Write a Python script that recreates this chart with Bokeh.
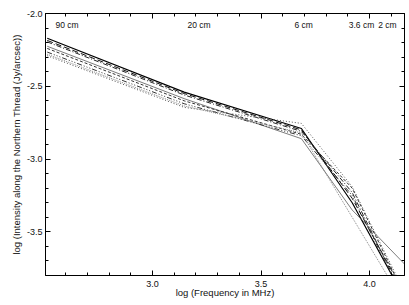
from bokeh.plotting import figure
from bokeh.models import LinearAxis, FixedTicker, Range1d, Label
from bokeh.embed import file_html
from bokeh.resources import INLINE

# log frequency (MHz) of the observed bands: 90, 20, 6, 3.6, 2 cm
log_freq = [2.515, 3.146, 3.686, 3.920, 4.170]

series = {
    "s1": [-2.170, -2.540, -2.790, -3.300, -3.980],
    "s2": [-2.185, -2.550, -2.800, -3.270, -3.950],
    "s3": [-2.195, -2.560, -2.810, -3.230, -3.990],
    "s4": [-2.225, -2.585, -2.860, -3.350, -3.735],
    "s5": [-2.240, -2.600, -2.830, -3.200, -3.960],
    "s6": [-2.265, -2.620, -2.840, -3.250, -4.000],
    "s7": [-2.290, -2.645, -2.755, -3.190, -3.940],
    "s8": [-2.280, -2.635, -2.820, -3.400, -4.020],
}
styles = {
    "s1": ("solid", 1.2, "#000000"),
    "s2": ("6 3", 1.0, "#111111"),
    "s3": ("5 2 1 2", 1.0, "#222222"),
    "s4": ("solid", 0.7, "#444444"),
    "s5": ("3 2", 1.0, "#333333"),
    "s6": ("5 2 1 2 1 2 1 2", 1.0, "#333333"),
    "s7": ("1 2", 1.0, "#555555"),
    "s8": ("1 1", 1.0, "#888888"),
}

band_labels = ["90 cm", "20 cm", "6 cm", "3.6 cm", "2 cm"]
band_label_x = [2.553, 3.161, 3.654, 3.904, 4.040]
band_label_y = -2.082

x_ticks = [3.0, 3.5, 4.0]
x_minor = [2.6, 2.7, 2.8, 2.9, 3.1, 3.2, 3.3, 3.4, 3.6, 3.7, 3.8, 3.9, 4.1]
y_ticks = [-2.0, -2.5, -3.0, -3.5]
y_minor = [-2.1, -2.2, -2.3, -2.4, -2.6, -2.7, -2.8, -2.9, -3.1, -3.2, -3.3, -3.4, -3.6, -3.7]

FONT = "Liberation Sans"

p = figure(width=405, height=300, output_backend="svg", toolbar_location=None,
           x_range=Range1d(2.507, 4.161), y_range=Range1d(-3.8, -2.0),
           min_border_left=45, min_border_right=1, min_border_top=13, min_border_bottom=24,
           x_axis_location=None, y_axis_location=None)
p.grid.visible = False
p.outline_line_color = "black"
p.outline_line_width = 1
p.background_fill_color = "white"
p.border_fill_color = "white"

for k, ys in series.items():
    dash, w, c = styles[k]
    p.line(log_freq, ys, line_color=c, line_width=w, line_dash=dash)

def make_axis(ticks, minor, labels, label_text=None, label_standoff=3, axis_standoff=2):
    ax = LinearAxis(ticker=FixedTicker(ticks=ticks, minor_ticks=minor))
    ax.major_tick_in = 5
    ax.major_tick_out = 0
    ax.minor_tick_in = 3
    ax.minor_tick_out = 0
    ax.axis_line_color = "black"
    ax.major_tick_line_color = "black"
    ax.minor_tick_line_color = "black"
    if labels:
        ax.major_label_overrides = {t: f"{t:.1f}" for t in ticks}
        ax.major_label_text_font = FONT
        ax.major_label_text_font_size = "9px"
        ax.major_label_text_color = "#111111"
        ax.major_label_standoff = label_standoff
    else:
        ax.major_label_text_font_size = "0px"
        ax.major_label_text_alpha = 0
    if label_text:
        ax.axis_label = label_text
        ax.axis_label_text_font = FONT
        ax.axis_label_text_font_size = "9.5px"
        ax.axis_label_text_font_style = "normal"
        ax.axis_label_text_color = "#111111"
        ax.axis_label_standoff = axis_standoff
    return ax

p.add_layout(make_axis(x_ticks, x_minor, True, "log (Frequency in MHz)",
                       label_standoff=5, axis_standoff=-3), "below")
p.add_layout(make_axis(y_ticks, y_minor, True,
                       "log (Intensity along the Northern Thread (Jy/arcsec))",
                       label_standoff=3, axis_standoff=2), "left")
p.add_layout(make_axis(x_ticks, x_minor, False), "above")
p.add_layout(make_axis(y_ticks, y_minor, False), "right")

for lab, lx in zip(band_labels, band_label_x):
    p.add_layout(Label(x=lx, y=band_label_y, text=lab, text_font=FONT,
                       text_font_size="8.5px", text_baseline="middle", text_color="#111111"))

open("out.html", "w").write(file_html(p, INLINE))
